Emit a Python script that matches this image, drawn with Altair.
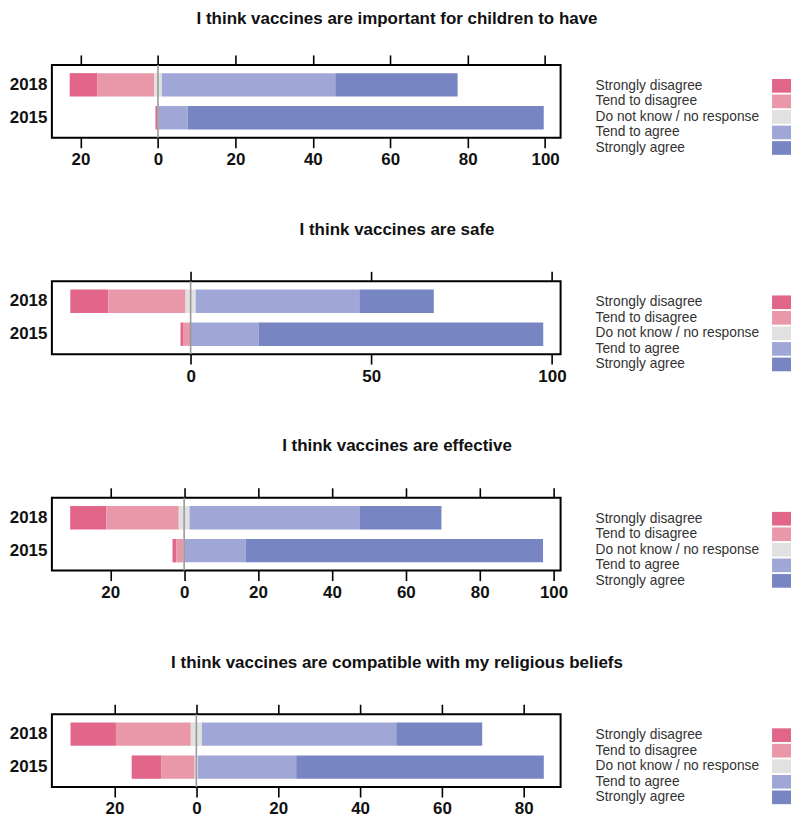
import altair as alt
import pandas as pd

categories = ["Strongly disagree", "Tend to disagree", "Do not know / no response",
              "Tend to agree", "Strongly agree"]
colors = ["#E2668A", "#E898A8", "#E1E1E1", "#A0A7D7", "#7885C3"]
years = ["2018", "2015"]
questions = [
    "I think vaccines are important for children to have",
    "I think vaccines are safe",
    "I think vaccines are effective",
    "I think vaccines are compatible with my religious beliefs",
]
# percentages: SD, TD, DK, TA, SA
values_2018 = [
    [7.2, 14.6, 2.0, 44.8, 31.6],
    [10.5, 21.4, 2.8, 45.3, 20.6],
    [9.8, 19.6, 2.9, 46.0, 22.2],
    [11.1, 18.3, 2.7, 47.5, 21.0],
]
values_2015 = [
    [0.5, 0.0, 0.3, 7.5, 92.0],
    [0.7, 2.0, 0.2, 18.7, 78.8],
    [1.0, 2.0, 0.3, 16.5, 80.5],
    [7.2, 8.2, 0.8, 24.0, 60.5],
]
x_domains = [[-27.4, 104.0], [-38.4, 102.4], [-35.8, 101.9], [-35.3, 89.0]]
x_ticks = [
    [-20, 0, 20, 40, 60, 80, 100],
    [0, 50, 100],
    [-20, 0, 20, 40, 60, 80, 100],
    [-20, 0, 20, 40, 60, 80],
]
title_offsets = [26, 32, 32, 32]

FONT = "Liberation Sans"


def segments(i):
    rows = []
    for year, vals in (("2018", values_2018[i]), ("2015", values_2015[i])):
        sd, td, dk, ta, sa = vals
        h = dk / 2.0
        bounds = [
            (-(h + td + sd), -(h + td)),
            (-(h + td), -h),
            (-h, h),
            (h, h + ta),
            (h + ta, h + ta + sa),
        ]
        for cat, (s, e) in zip(categories, bounds):
            rows.append({"year": year, "category": cat, "start": s, "end": e})
    return pd.DataFrame(rows)


color_scale = alt.Scale(domain=categories, range=colors)
legend_df = pd.DataFrame({"category": categories})


def panel(i):
    xs = alt.Scale(domain=x_domains[i], nice=False, zero=False)
    bars = alt.Chart(segments(i)).mark_bar().encode(
        x=alt.X("start:Q", scale=xs,
                axis=alt.Axis(orient="bottom", values=x_ticks[i], labelExpr="abs(datum.value)",
                              title=None, grid=False, domain=False, tickSize=10, tickWidth=1.6,
                              tickColor="#000", labelFontSize=17, labelFontWeight="bold",
                              labelColor="#111", labelFont=FONT, labelPadding=4)),
        x2="end:Q",
        y=alt.Y("year:N", sort=years, scale=alt.Scale(paddingInner=0.29, paddingOuter=0.25),
                axis=alt.Axis(title=None, ticks=False, domain=False, labelFontSize=17,
                              labelFontWeight="bold", labelColor="#111", labelFont=FONT,
                              labelPadding=5)),
        color=alt.Color("category:N", scale=color_scale, legend=None),
    )
    zero = alt.Chart(pd.DataFrame({"z": [0]})).mark_rule(color="#9a9a9a", strokeWidth=1.6).encode(
        x=alt.X("z:Q", scale=xs,
                axis=alt.Axis(orient="top", values=x_ticks[i], labels=False, title=None,
                              grid=False, domain=False, tickSize=10, tickWidth=1.6,
                              tickColor="#000")),
    )
    leg_y = alt.Y("category:N", sort=categories,
                  scale=alt.Scale(range=[13.2, 91.1], paddingInner=0.12, paddingOuter=0.06),
                  axis=None)
    leg_text = alt.Chart(legend_df).mark_text(
        align="left", baseline="middle", fontSize=13.8, color="#333333", font=FONT
    ).encode(x=alt.value(545), y=leg_y, text="category:N")
    leg_sw = alt.Chart(legend_df).mark_rect().encode(
        x=alt.value(722), x2=alt.value(741), y=leg_y,
        color=alt.Color("category:N", scale=color_scale, legend=None),
    )
    return alt.layer(bars, zero, leg_text, leg_sw).resolve_scale(
        y="independent"
    ).resolve_axis(x="independent").properties(
        width=510, height=73,
        title=alt.TitleParams(text=questions[i], fontSize=17, fontWeight="bold", font=FONT,
                              color="#111", anchor="middle", frame="group", dx=91,
                              offset=title_offsets[i]),
    )


chart = alt.vconcat(*[panel(i) for i in range(4)], spacing=51).properties(
    padding=0, background="white"
).configure_view(stroke="#000", strokeWidth=2)

chart.save("out.html", embed_options={"renderer": "svg", "actions": False})
